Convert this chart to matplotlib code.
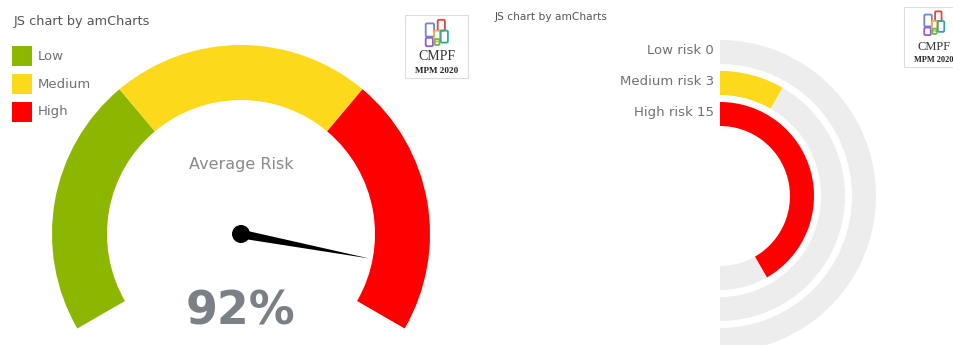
"""Average-risk gauge and risk-count radial bars, two amCharts-style panels."""

import numpy as np
import matplotlib.pyplot as plt
from matplotlib.patches import Wedge, Rectangle, Circle, Polygon, FancyBboxPatch

# gauge data
band_names = ["Low", "Medium", "High"]
band_edges = [0, 33.33, 66.67, 100]
band_colors = ["#8db600", "#fcd91b", "#fe0000"]
average_risk = 92

# radial bar data
risk_labels = ["Low risk", "Medium risk", "High risk"]
risk_counts = [0, 3, 15]
risk_colors = ["#8db600", "#fcd91b", "#fe0000"]

TRACK = "#ededed"
TEXT = "#707070"


def arc(ax, cx, cy, r, width, a_from, a_to, color):
    """Ring segment in image coords (y down); angles are screen degrees ccw."""
    ax.add_patch(Wedge((cx, cy), r, -a_to, -a_from, width=width,
                       facecolor=color, edgecolor="none"))


def draw_logo(ax, x, y, w, h, s, text_y, sub_y):
    ax.add_patch(Rectangle((x, y), w, h, facecolor="white",
                           edgecolor="#dcdcdc", lw=0.8))
    mx = x + w / 2
    top = y + 6 * s
    k = 1.2 * s
    # small outlined blocks of the CMPF mark
    blocks = [(-9, 2, 7, 11, "#6f86d6"), (1, -1, 6, 9, "#e2483c"),
              (-9, 14, 6, 7, "#9b5bd0"), (-2, 8, 5, 9, "#f2b33c"),
              (3.5, 8, 6, 10, "#2fa7a6"), (-1.5, 15, 4, 5, "#6cbb4a")]
    for bx, by, bw, bh, c in blocks:
        ax.add_patch(FancyBboxPatch((mx + bx * k, top + by * k), bw * k, bh * k,
                                    boxstyle="round,pad=0,rounding_size=1.3",
                                    facecolor="none", edgecolor=c, lw=1.3))
    ax.text(mx, text_y, "CMPF", ha="center", va="center",
            family="Liberation Serif", fontsize=10 * s, color="#333333")
    ax.text(mx, sub_y, "MPM 2020", ha="center", va="center",
            family="Liberation Serif", fontweight="bold", fontsize=6.6 * s,
            color="#222222")


fig = plt.figure(figsize=(9.54, 3.45), dpi=100)
ax = fig.add_axes([0, 0, 1, 1])
ax.set_xlim(0, 954)
ax.set_ylim(345, 0)
ax.axis("off")

# ---- left panel: gauge ----
gx, gy = 241, 234
g_outer, g_width = 189, 55
start, span = 210, 240


def value_angle(v):
    return start - v / 100 * span


for i, name in enumerate(band_names):
    arc(ax, gx, gy, g_outer, g_width,
        value_angle(band_edges[i + 1]), value_angle(band_edges[i]), band_colors[i])

a = np.radians(value_angle(average_risk))
hand_len, half_w = 131, 4.4
tip = (gx + hand_len * np.cos(a), gy - hand_len * np.sin(a))
px, py = -np.sin(a) * half_w, -np.cos(a) * half_w
ax.add_patch(Polygon([(gx + px, gy + py), tip, (gx - px, gy - py)],
                     closed=True, facecolor="black", edgecolor="none"))
ax.add_patch(Circle((gx, gy), 9, facecolor="black", edgecolor="none"))

ax.text(gx, 164, "Average Risk", ha="center", va="center",
        fontsize=11.5, color="#8a8a8a")
ax.text(gx, 312, f"{average_risk}%", ha="center", va="center",
        fontsize=33, fontweight="bold", color="#7b8087")

# legend
for i, name in enumerate(band_names):
    ly = 56 + i * 28
    ax.add_patch(Rectangle((12, ly - 10), 20, 20, facecolor=band_colors[i],
                           edgecolor="none"))
    ax.text(38, ly, name, ha="left", va="center", fontsize=9.5, color=TEXT)

ax.text(14, 22, "JS chart by amCharts", ha="left", va="center",
        fontsize=9.3, color="#555555")
draw_logo(ax, 405, 15, 63, 63, 1.0, 57, 71)

# ---- right panel: radial bars ----
rx, ry = 720, 196
r_outer, r_width, r_step = 156, 24, 31
axis_max = sum(risk_counts)

for i, (label, count) in enumerate(zip(risk_labels, risk_counts)):
    r = r_outer - i * r_step
    arc(ax, rx, ry, r, r_width, -90, 90, TRACK)
    if count > 0:
        arc(ax, rx, ry, r, r_width, 90 - count / axis_max * 180, 90,
            risk_colors[i])
    ax.text(rx - 6, ry - (r - r_width / 2) - 1.5, f"{label} {count}",
            ha="right", va="center", fontsize=9.5, color=TEXT)

ax.text(495, 17, "JS chart by amCharts", ha="left", va="center",
        fontsize=7.7, color="#555555")
draw_logo(ax, 904, 7, 60, 60, 0.9, 47, 60)

fig.savefig("out.png", dpi=100)
